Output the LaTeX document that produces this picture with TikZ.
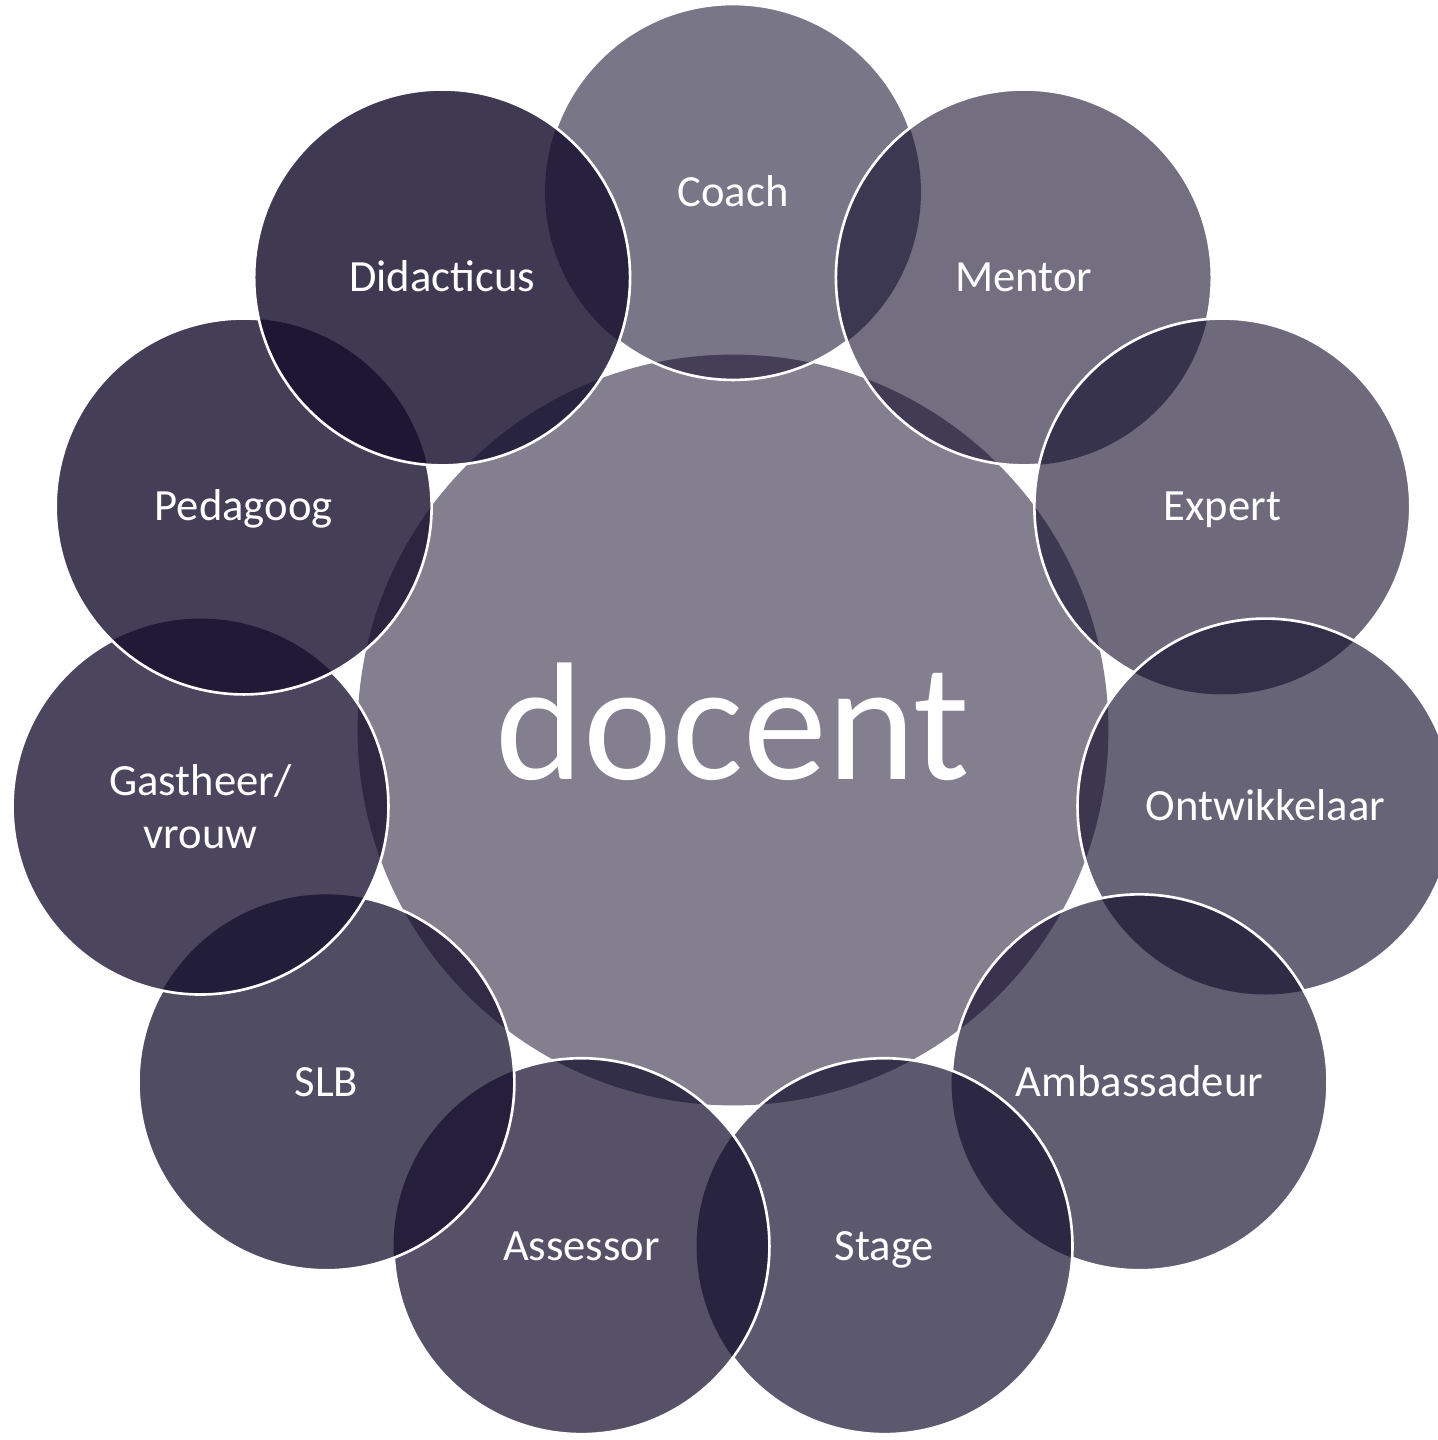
\documentclass[tikz,border=0pt]{standalone}
\usepackage{fontspec}
\setmainfont{Carlito}
\usetikzlibrary{positioning}
\definecolor{roleink}{RGB}{21,15,45}

\begin{document}
\begin{tikzpicture}[x=0.02cm,y=0.02cm,
    every node/.style={inner sep=0,outer sep=0,text=white,text opacity=1},
    roleshape/.style={circle,minimum size=7.52cm,fill=roleink,align=center,font=\fontsize{25.4}{30}\selectfont},
    role/.style={roleshape,text height=19pt,text depth=2.7pt},
    ring/.style={draw=white,line width=1.5pt}]

    \fill[white] (-733,730) rectangle (704,-710);
    \useasboundingbox (-733,730) rectangle (704,-710);

    \node (docent) [circle,minimum size=15.02cm,fill=roleink,fill opacity=0.53,text height=66.9pt,text depth=10.2pt,font=\fontsize{95.6}{110}\selectfont] at (0,0) {docent};

    \node (coach)        [role,fill opacity=0.570] at (90:538)      {Coach};
    \node (mentor)       [role,fill opacity=0.595] at (57.27:538)   {Mentor};
    \node (expert)       [role,fill opacity=0.620] at (24.55:538)   {Expert};
    \node (ontwikkelaar) [role,fill opacity=0.645] at (-8.18:538)   {Ontwikkelaar};
    \node (ambassadeur)  [role,fill opacity=0.670] at (-40.91:538)  {Ambassadeur};
    \node (stage)        [role,fill opacity=0.695] at (-73.64:538)  {Stage};
    \node (assessor)     [role,fill opacity=0.720] at (-106.36:538) {Assessor};
    \node (slb)          [role,fill opacity=0.745] at (-139.09:538) {SLB};
    \node (gastheer)     [roleshape,fill opacity=0.770] at (-171.82:538) {Gastheer/\\vrouw};
    \node (pedagoog)     [role,fill opacity=0.795] at (155.45:538)  {Pedagoog};
    \node (didacticus)   [role,fill opacity=0.820] at (122.73:538)  {Didacticus};

    % white rims, hidden below the circle that lies on top
    \begin{scope}[even odd rule]
        \clip (-800,800) rectangle (800,-800) (mentor.center) circle[radius=3.76cm] (didacticus.center) circle[radius=3.76cm];
        \draw[ring] (coach.center) circle[radius=3.76cm];
    \end{scope}
    \foreach \a/\b in {mentor/expert,expert/ontwikkelaar,ontwikkelaar/ambassadeur,ambassadeur/stage,stage/assessor,assessor/slb,slb/gastheer,gastheer/pedagoog,pedagoog/didacticus}{
        \begin{scope}[even odd rule]
            \clip (-800,800) rectangle (800,-800) (\b.center) circle[radius=3.76cm];
            \draw[ring] (\a.center) circle[radius=3.76cm];
        \end{scope}
    }
    \draw[ring] (didacticus.center) circle[radius=3.76cm];

\end{tikzpicture}
\end{document}
